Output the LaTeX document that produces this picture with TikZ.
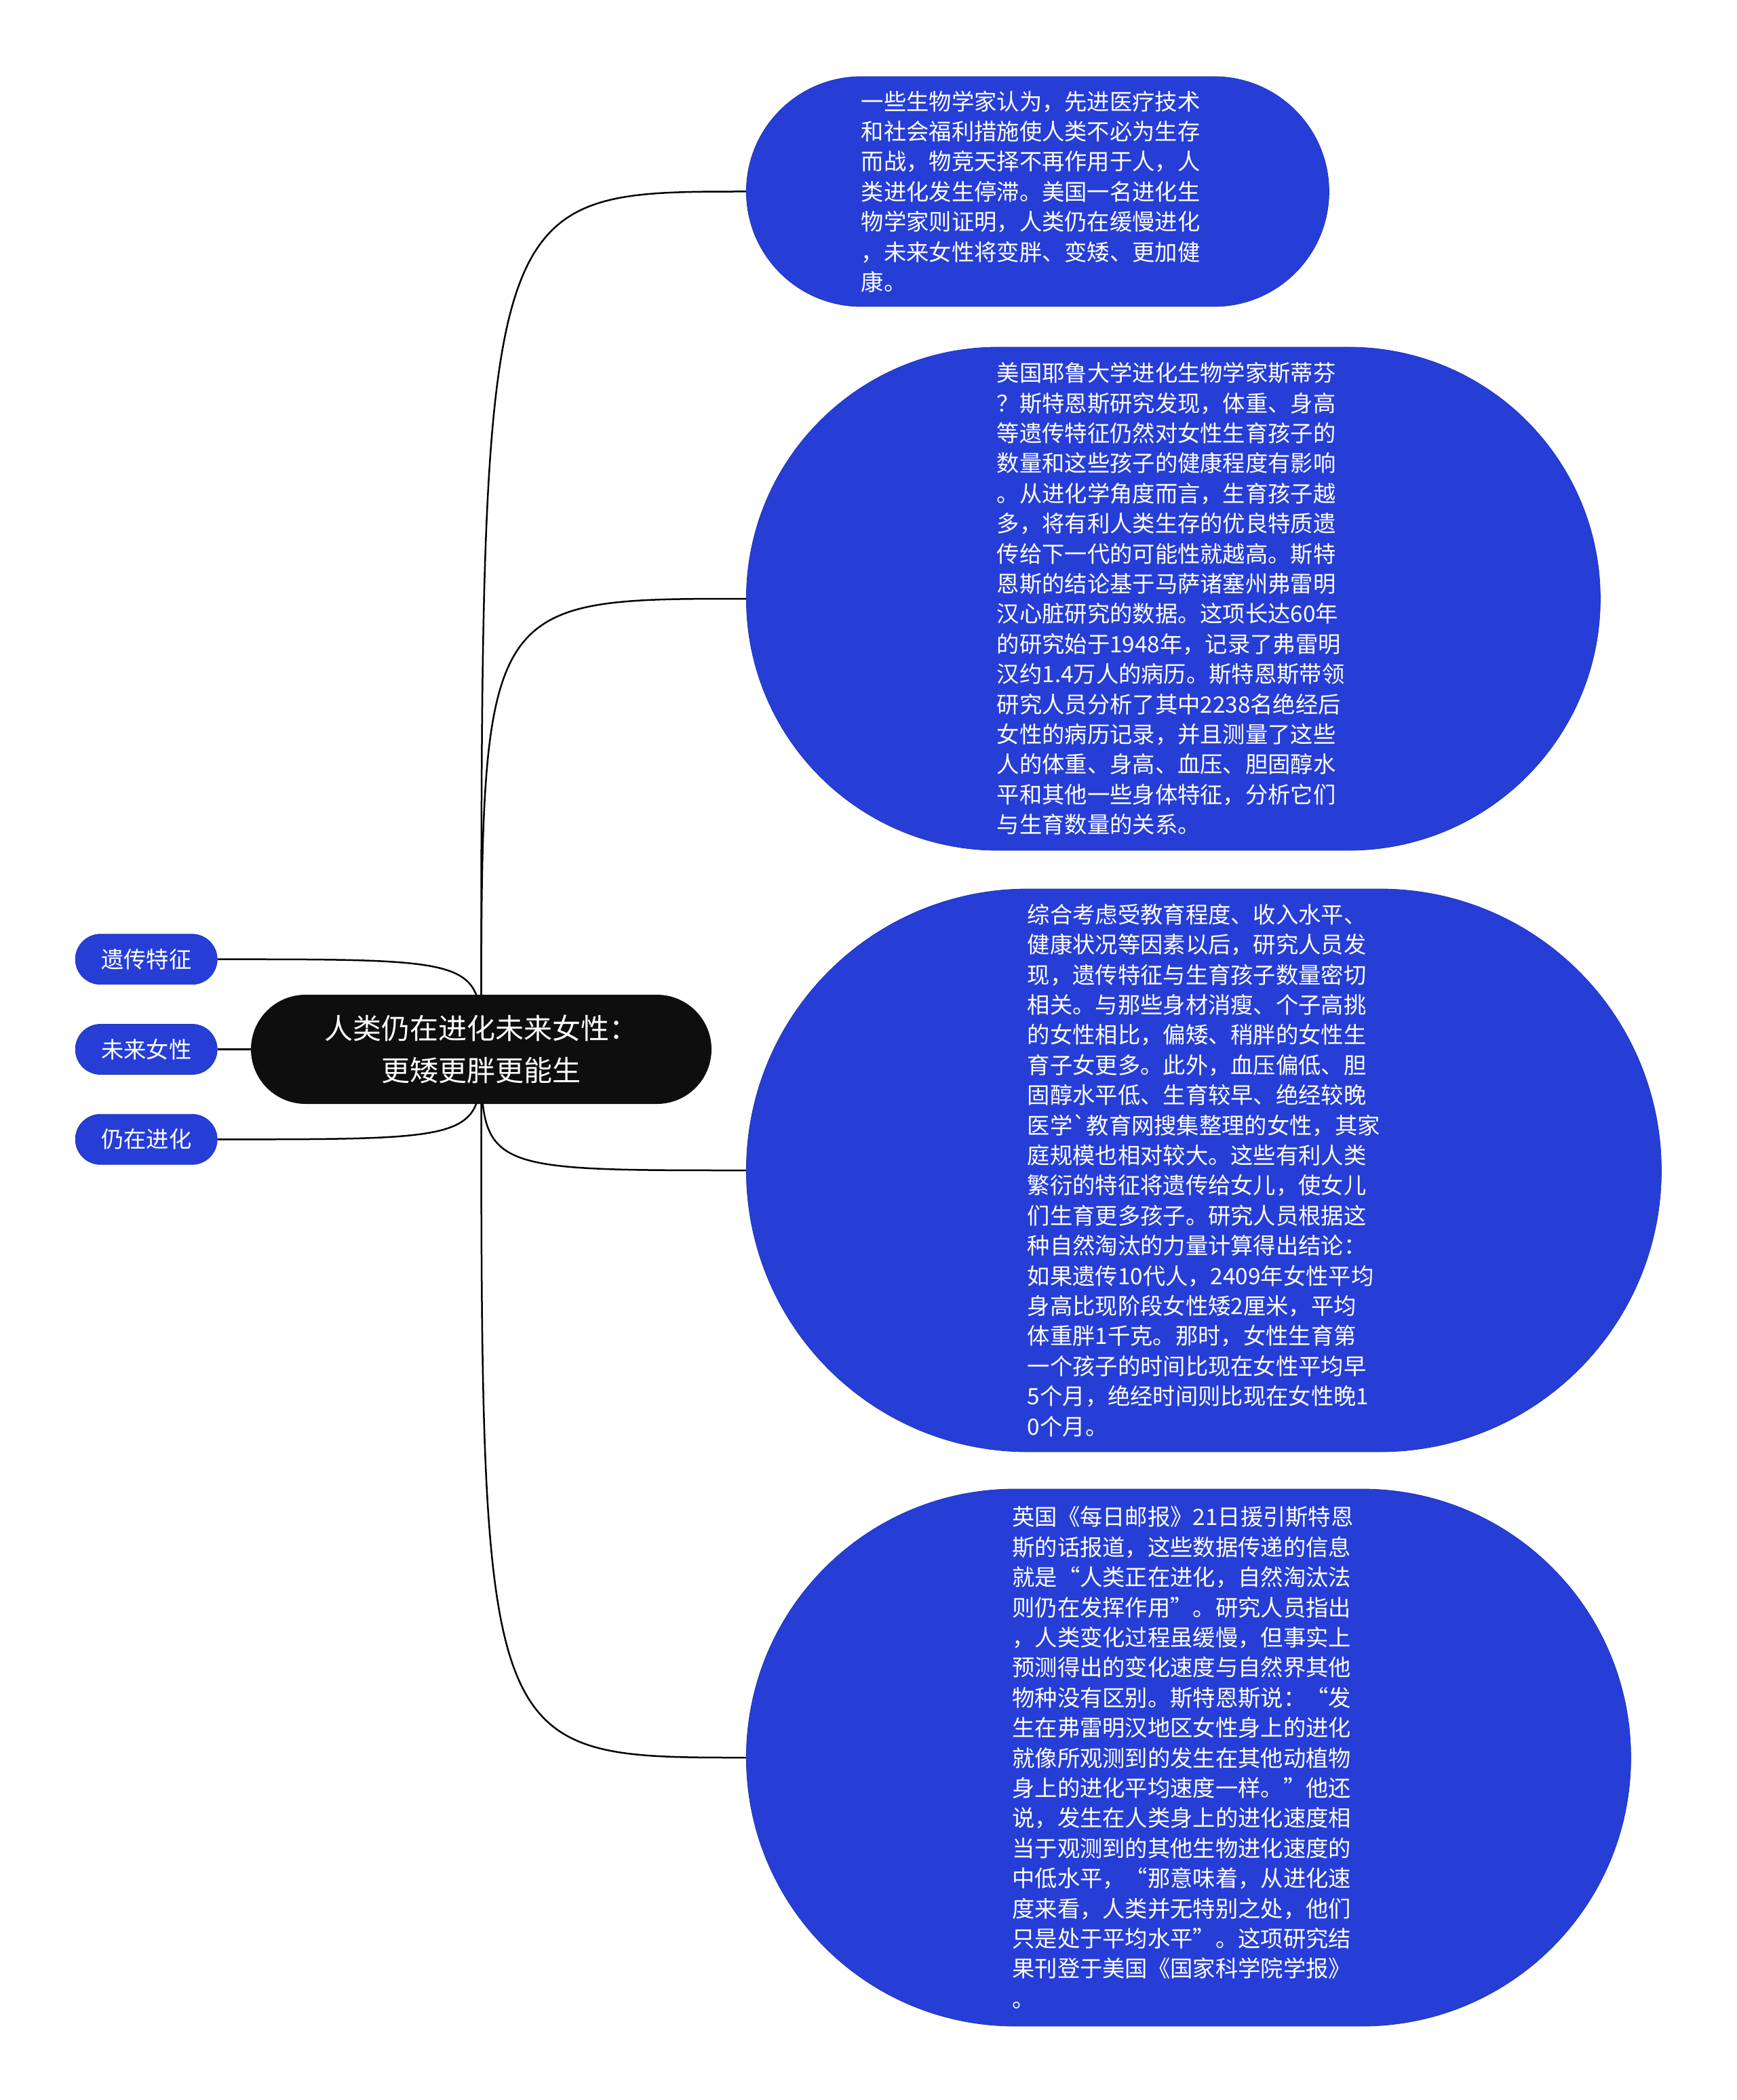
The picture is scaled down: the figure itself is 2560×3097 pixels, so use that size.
\documentclass[tikz,border=0pt]{standalone}
\usepackage{fontspec}
\setmainfont{Noto Sans CJK SC}
\usepackage{tikz}
\usetikzlibrary{
  backgrounds,
  positioning
}
\definecolor{leafblue}{RGB}{38,62,214}
\definecolor{rootblack}{RGB}{14,14,14}
\tikzset{
  base/.style={ font=\fontsize{16.65pt}{22.2pt}\selectfont },
  leaf/.style={
    rounded corners=#1/2,
    fill=leafblue,
    draw=leafblue!85!black,
    line width=0.4pt,
    minimum height=#1,
    text=white,
    inner sep=0pt,
    text width=260pt,
    align=left
  },
  tag/.style={
    rounded corners=18.5pt,
    fill=leafblue,
    draw=leafblue!85!black,
    line width=0.4pt,
    minimum width=104.5pt,
    minimum height=37pt,
    inner sep=0pt,
    text=white
  },
  hub/.style={
    rounded corners=40.25pt,
    fill=rootblack,
    minimum width=339.5pt,
    minimum height=80.5pt,
    inner sep=0pt,
    text=white,
    align=center,
    font=\fontsize{21pt}{31pt}\selectfont
  },
  branch/.style={
    line width=1.25pt,
    draw=black,
    to path={.. controls (\tikztostart |- \tikztotarget) .. (\tikztotarget)}
  }
}

\begin{document}
\begin{tikzpicture}[base, x=0.5pt, y=-0.5pt]
  \useasboundingbox (0,0) rectangle (2560,3097);

  % centre topic
  \node[hub] (root) at (709.5,1547.5) {人类仍在进化未来女性：\\更矮更胖更能生};

  % keywords on the left
  \node[tag, left=24.5pt of root] (l2) {未来女性};
  \node[tag, above=29pt of l2] (l1) {遗传特征};
  \node[tag, below=29pt of l2] (l3) {仍在进化};

  % text boxes on the right
  \node[leaf=169.5pt, minimum width=429.5pt, anchor=west] (b1) at (1100,282.5)
    {一些生物学家认为，先进医疗技术\\
     和社会福利措施使人类不必为生存\\
     而战，物竞天择不再作用于人，人\\
     类进化发生停滞。美国一名进化生\\
     物学家则证明，人类仍在缓慢进化\\
     ，未来女性将变胖、变矮、更加健\\
     康。};
  \node[leaf=371pt, minimum width=629.5pt, anchor=west] (b2) at (1100,883)
    {美国耶鲁大学进化生物学家斯蒂芬\\
     ？斯特恩斯研究发现，体重、身高\\
     等遗传特征仍然对女性生育孩子的\\
     数量和这些孩子的健康程度有影响\\
     。从进化学角度而言，生育孩子越\\
     多，将有利人类生存的优良特质遗\\
     传给下一代的可能性就越高。斯特\\
     恩斯的结论基于马萨诸塞州弗雷明\\
     汉心脏研究的数据。这项长达60年\\
     的研究始于1948年，记录了弗雷明\\
     汉约1.4万人的病历。斯特恩斯带领\\
     研究人员分析了其中2238名绝经后\\
     女性的病历记录，并且测量了这些\\
     人的体重、身高、血压、胆固醇水\\
     平和其他一些身体特征，分析它们\\
     与生育数量的关系。};
  \node[leaf=415pt, minimum width=674.5pt, anchor=west] (b3) at (1100,1726)
    {综合考虑受教育程度、收入水平、\\
     健康状况等因素以后，研究人员发\\
     现，遗传特征与生育孩子数量密切\\
     相关。与那些身材消瘦、个子高挑\\
     的女性相比，偏矮、稍胖的女性生\\
     育子女更多。此外，血压偏低、胆\\
     固醇水平低、生育较早、绝经较晚\\
     医学\textasciigrave{}教育网搜集整理的女性，其家\\
     庭规模也相对较大。这些有利人类\\
     繁衍的特征将遗传给女儿，使女儿\\
     们生育更多孩子。研究人员根据这\\
     种自然淘汰的力量计算得出结论：\\
     如果遗传10代人，2409年女性平均\\
     身高比现阶段女性矮2厘米，平均\\
     体重胖1千克。那时，女性生育第\\
     一个孩子的时间比现在女性平均早\\
     5个月，绝经时间则比现在女性晚1\\
     0个月。};
  \node[leaf=396pt, minimum width=652pt, anchor=west] (b4) at (1100,2592)
    {英国《每日邮报》21日援引斯特恩\\
     斯的话报道，这些数据传递的信息\\
     就是“人类正在进化，自然淘汰法\\
     则仍在发挥作用”。研究人员指出\\
     ，人类变化过程虽缓慢，但事实上\\
     预测得出的变化速度与自然界其他\\
     物种没有区别。斯特恩斯说：“发\\
     生在弗雷明汉地区女性身上的进化\\
     就像所观测到的发生在其他动植物\\
     身上的进化平均速度一样。”他还\\
     说，发生在人类身上的进化速度相\\
     当于观测到的其他生物进化速度的\\
     中低水平，“那意味着，从进化速\\
     度来看，人类并无特别之处，他们\\
     只是处于平均水平”。这项研究结\\
     果刊登于美国《国家科学院学报》\\
     。};

  % connectors
  \begin{scope}[on background layer]
    \foreach \b in {b1,b2,b3,b4}
      \draw[branch] (root.center) to (\b.west);
    \foreach \l in {l1,l2,l3}
      \draw[branch] (root.center) to (\l.east);
  \end{scope}
\end{tikzpicture}
\end{document}
